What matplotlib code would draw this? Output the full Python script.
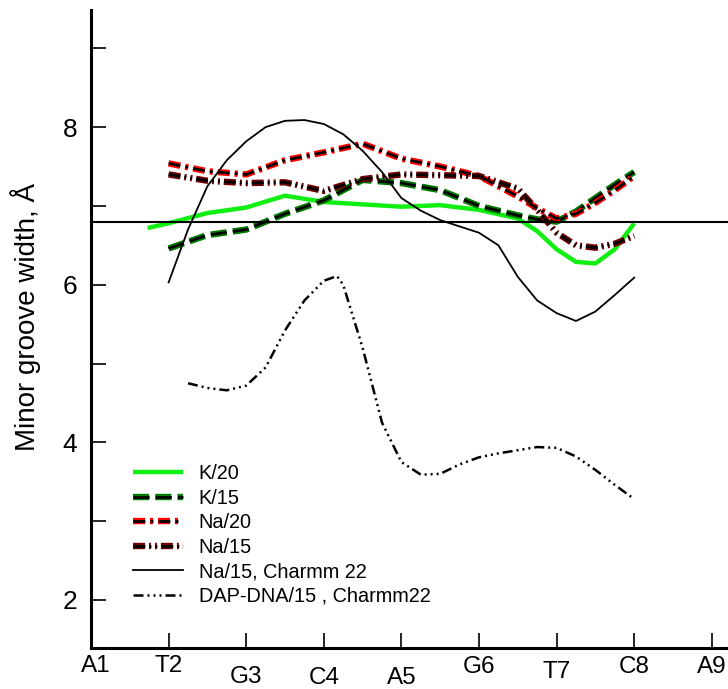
import matplotlib
matplotlib.use("Agg")
import matplotlib.pyplot as plt
import matplotlib.patheffects as pe
import matplotlib.transforms as mtrans
import numpy as np

plt.rcParams['font.family'] = ['Liberation Sans', 'DejaVu Sans']

# ---------------- data ----------------
tick_labels = ["A1", "T2", "G3", "C4", "A5", "G6", "T7", "C8", "A9"]
tick_pos = [1, 2, 3, 4, 5, 6, 7, 8, 9]

k20_x = [1.73, 2.0, 2.5, 3.0, 3.5, 4.0, 4.5, 5.0, 5.5, 6.0, 6.5, 6.75, 7.0, 7.25, 7.5, 7.75, 8.0]
k20_y = [6.72, 6.78, 6.91, 6.98, 7.13, 7.05, 7.02, 6.99, 7.01, 6.95, 6.84, 6.68, 6.45, 6.29, 6.27, 6.45, 6.78]

k15_x = [2.0, 2.5, 3.0, 3.5, 4.0, 4.5, 5.0, 5.5, 6.0, 6.5, 6.75, 7.0, 7.25, 7.5, 7.75, 8.0]
k15_y = [6.46, 6.63, 6.70, 6.90, 7.07, 7.33, 7.29, 7.20, 7.00, 6.88, 6.83, 6.80, 6.93, 7.10, 7.27, 7.43]

na20_x = [2.0, 2.5, 3.0, 3.5, 4.0, 4.5, 5.0, 5.5, 6.0, 6.5, 6.75, 7.0, 7.25, 7.5, 7.75, 8.0]
na20_y = [7.54, 7.44, 7.40, 7.58, 7.68, 7.79, 7.60, 7.50, 7.38, 7.12, 6.97, 6.84, 6.90, 7.04, 7.20, 7.38]

na15_x = [2.0, 2.5, 3.0, 3.5, 4.0, 4.5, 5.0, 5.5, 6.0, 6.5, 6.75, 7.0, 7.25, 7.5, 7.75, 8.0]
na15_y = [7.40, 7.32, 7.29, 7.30, 7.19, 7.34, 7.40, 7.39, 7.38, 7.22, 6.95, 6.66, 6.50, 6.47, 6.52, 6.62]

ch_x = [2.0, 2.25, 2.5, 2.75, 3.0, 3.25, 3.5, 3.75, 4.0, 4.25, 4.5, 4.75, 5.0,
        5.25, 5.5, 5.75, 6.0, 6.25, 6.5, 6.75, 7.0, 7.25, 7.5, 7.75, 8.0]
ch_y = [6.03, 6.70, 7.25, 7.58, 7.82, 8.00, 8.08, 8.09, 8.04, 7.91, 7.70, 7.43, 7.10,
        6.94, 6.82, 6.74, 6.66, 6.50, 6.10, 5.80, 5.64, 5.54, 5.66, 5.87, 6.09]

dap_x = [2.25, 2.5, 2.75, 3.0, 3.25, 3.5, 3.75, 4.0, 4.17, 4.25, 4.5, 4.75, 5.0,
         5.25, 5.5, 5.75, 6.0, 6.25, 6.5, 6.75, 7.0, 7.25, 7.5, 7.75, 8.0]
dap_y = [4.75, 4.69, 4.66, 4.72, 4.95, 5.42, 5.80, 6.05, 6.11, 6.00, 5.20, 4.25, 3.75,
         3.59, 3.60, 3.72, 3.81, 3.86, 3.90, 3.94, 3.93, 3.82, 3.65, 3.46, 3.28]

ref_level = 6.79

# ---------------- figure ----------------
W, H = 728, 689
fig = plt.figure(figsize=(W / 100, H / 100), dpi=100)
ax = fig.add_axes([91 / W, 41 / H, 637 / W, 638 / H])
ax.set_xlim(1, 1 + 637 / 77.6)
ax.set_ylim(1.39, 1.39 + 638 / 78.8)

def outlined(color, inner_lw, outer_lw):
    return dict(color='black', lw=inner_lw,
                path_effects=[pe.Stroke(linewidth=outer_lw, foreground=color), pe.Normal()])

ax.plot(k20_x, k20_y, color='#11ee11', lw=3.2, solid_capstyle='butt', label='K/20')
ax.plot(k15_x, k15_y, linestyle=(0, (5.8, 2.2)), label='K/15',
        **outlined('#007a00', 2.0, 4.6))
ax.plot(na20_x, na20_y, linestyle=(0, (4.3, 1.8, 1.1, 1.8)), label='Na/20',
        **outlined('#ff0000', 2.0, 4.6))
ax.plot(na15_x, na15_y, linestyle=(0, (4.3, 1.45, 0.7, 1.45, 0.7, 1.45)), label='Na/15',
        **outlined('#700000', 2.0, 4.6))
ax.plot(ch_x, ch_y, color='black', lw=1.3, label='Na/15, Charmm 22')
ax.plot(dap_x, dap_y, color='black', lw=1.8,
        linestyle=(0, (4, 1.6, 0.8, 1.6, 0.8, 1.6, 0.8, 1.6)),
        label='DAP-DNA/15 , Charmm22')

ax.axhline(ref_level, color='black', lw=1.5)

# spines
for s in ('top', 'right'):
    ax.spines[s].set_visible(False)
for s in ('left', 'bottom'):
    ax.spines[s].set_linewidth(2.2)

ax.set_yticks([2, 4, 6, 8])
ax.set_yticks([3, 5, 7, 9], minor=True)
ax.set_xticks(tick_pos)
ax.set_xticklabels(tick_labels)
ax.tick_params(axis='y', which='both', direction='in', length=11, width=1.2,
               labelsize=19, pad=10)
ax.tick_params(axis='x', which='both', direction='in', length=10.5, width=1.2,
               labelsize=17.5, pad=5)
pads = [5, 5, 13, 13.5, 13.5, 6, 9, 6, 5.5]
for t, p in zip(ax.xaxis.get_major_ticks(), pads):
    t.set_pad(p)
first = ax.xaxis.get_major_ticks()[0].label1
first.set_transform(first.get_transform() +
                    mtrans.ScaledTranslation(5 / 100, 0, fig.dpi_scale_trans))

fig.text(26 / W, 1 - 317 / H, "Minor groove width, Å", rotation=90,
         ha='center', va='center', fontsize=20)

leg = ax.legend(loc='upper left', bbox_to_anchor=(133 / W, 1 - 464 / H),
                bbox_transform=fig.transFigure, frameon=False, fontsize=14.3,
                handlelength=2.5, handletextpad=0.8, labelspacing=0.28,
                borderpad=0, borderaxespad=0)

fig.savefig("out.png", dpi=100)
